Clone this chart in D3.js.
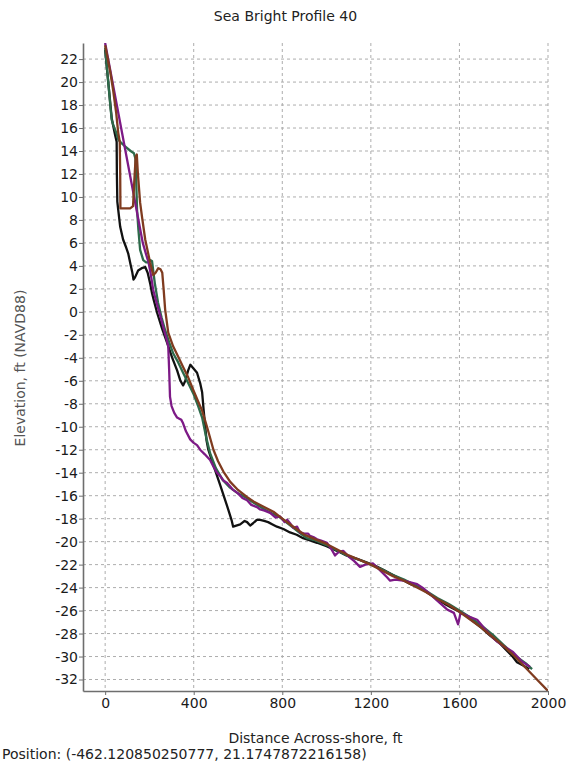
<!DOCTYPE html>
<html>
<head>
<meta charset="utf-8">
<script src="https://cdn.jsdelivr.net/npm/d3@7"></script>
<style>
  body { margin: 0; background: #fff; }
  svg text { font-family: "DejaVu Sans", sans-serif; }
</style>
</head>
<body>
<svg id="chart" width="571" height="774"></svg>
<script>
// profile surveys, [distance ft, elevation ft]
var blackPts = [[0,22.8],[15,19.8],[30,16.8],[45,15.4],[52,14.8],[53,12],[55,9.6],[59,8.9],[68,7.4],[81,6.3],[95,5.6],[104,5.1],[115,4.1],[122,3.5],[128,2.8],[135,3.0],[149,3.6],[165,3.8],[181,3.9],[192,3.4],[203,2.5],[212,1.6],[220,1.0],[235,-0.1],[258,-1.5],[280,-2.7],[303,-4.0],[325,-5.1],[340,-6.0],[352,-6.4],[362,-6.0],[375,-5.1],[385,-4.6],[398,-4.9],[415,-5.3],[429,-6.2],[438,-7.0],[445,-8.6],[451,-9.8],[458,-11.2],[466,-12.0],[490,-13.4],[520,-15.1],[551,-16.9],[572,-18.2],[578,-18.7],[592,-18.6],[610,-18.5],[630,-18.2],[641,-18.3],[655,-18.6],[668,-18.4],[685,-18.1],[700,-18.1],[718,-18.2],[736,-18.3],[756,-18.5],[776,-18.7],[805,-18.9],[835,-19.2],[865,-19.4],[894,-19.7],[925,-19.9],[957,-20.1],[1000,-20.4],[1047,-20.8],[1090,-21.2],[1138,-21.5],[1180,-21.8],[1220,-22.1],[1260,-22.5],[1300,-22.9],[1340,-23.3],[1380,-23.7],[1420,-24.0],[1460,-24.5],[1500,-25.0],[1540,-25.5],[1580,-25.9],[1620,-26.3],[1660,-26.9],[1700,-27.5],[1740,-28.2],[1780,-28.8],[1810,-29.4],[1840,-30.0],[1860,-30.5],[1890,-30.8],[1915,-31.1]];

var greenPts = [[0,23.0],[15,19.8],[25,17.6],[30,16.7],[36,16.3],[50,15.6],[59,15.0],[68,14.8],[90,14.4],[115,14.0],[130,13.8],[137,13.3],[141,11.0],[144,8.9],[150,7.2],[158,5.4],[172,4.5],[185,4.3],[194,4.3],[205,4.5],[212,4.4],[217,3.6],[225,2.4],[239,0.8],[255,-0.5],[271,-1.6],[290,-2.7],[307,-3.6],[330,-4.4],[352,-5.3],[375,-6.2],[398,-7.1],[420,-8.2],[438,-9.2],[455,-10.8],[474,-12.3],[500,-13.6],[530,-14.6],[564,-15.3],[600,-15.8],[640,-16.2],[669,-16.6],[720,-17.2],[790,-17.9],[850,-18.8],[890,-19.4],[912,-19.7],[950,-19.9],[1000,-20.3],[1050,-20.8],[1100,-21.3],[1150,-21.6],[1200,-22.0],[1250,-22.4],[1300,-22.9],[1350,-23.3],[1400,-23.8],[1450,-24.3],[1500,-24.9],[1550,-25.4],[1600,-26.0],[1650,-26.6],[1700,-27.3],[1750,-28.1],[1800,-29.0],[1850,-29.9],[1900,-30.6],[1928,-31.1]];

var purplePts = [[0,23.4],[170,6.0],[185,5.0],[196,4.3],[203,3.6],[210,2.8],[217,1.9],[235,0.6],[250,-0.4],[262,-1.3],[275,-2.2],[285,-3.0],[289,-5.0],[293,-7.4],[300,-8.2],[312,-8.8],[325,-9.2],[335,-9.3],[344,-9.4],[352,-9.7],[365,-10.4],[384,-11.1],[400,-11.4],[415,-11.6],[429,-12.0],[450,-12.4],[474,-12.9],[490,-13.5],[505,-14.0],[520,-14.3],[535,-14.7],[551,-14.9],[565,-15.2],[578,-15.5],[600,-15.8],[620,-16.2],[641,-16.4],[660,-16.8],[686,-17.0],[700,-17.2],[720,-17.3],[745,-17.5],[770,-17.9],[790,-17.8],[810,-18.3],[822,-18.1],[835,-18.4],[850,-18.8],[867,-18.7],[880,-19.2],[900,-19.3],[917,-19.3],[925,-19.5],[940,-19.6],[957,-19.8],[975,-19.9],[1002,-20.1],[1020,-20.6],[1038,-21.2],[1055,-20.9],[1075,-20.8],[1100,-21.3],[1125,-21.7],[1151,-22.2],[1175,-22.0],[1210,-21.9],[1242,-22.5],[1273,-23.1],[1287,-23.4],[1310,-23.3],[1346,-23.4],[1370,-23.5],[1409,-23.7],[1440,-24.1],[1481,-24.8],[1510,-25.3],[1544,-25.9],[1575,-26.2],[1594,-27.2],[1605,-26.2],[1640,-26.5],[1680,-26.8],[1710,-27.5],[1738,-28.1],[1770,-28.7],[1800,-29.1],[1842,-29.6],[1880,-30.4],[1919,-30.9]];

var brownPts = [[0,23.2],[23,20.9],[36,19.3],[50,17.3],[59,15.6],[66,14.8],[68,12.0],[69,9.0],[90,9.0],[113,9.0],[126,9.2],[132,11.5],[138,13.5],[143,13.7],[148,12.0],[158,9.5],[167,8.2],[181,6.3],[203,4.3],[217,3.2],[228,3.4],[240,3.8],[250,3.7],[258,3.4],[264,2.0],[271,0.2],[285,-1.8],[307,-3.0],[330,-3.9],[352,-4.8],[375,-5.7],[398,-6.8],[420,-7.8],[438,-8.6],[460,-10.0],[489,-12.0],[510,-13.0],[534,-13.9],[565,-14.8],[600,-15.5],[640,-16.1],[670,-16.5],[720,-17.0],[760,-17.4],[800,-18.0],[850,-18.7],[900,-19.4],[950,-19.8],[1000,-20.2],[1050,-20.7],[1100,-21.2],[1150,-21.6],[1200,-22.0],[1250,-22.5],[1300,-23.0],[1350,-23.4],[1400,-23.9],[1450,-24.4],[1500,-25.0],[1550,-25.5],[1600,-26.1],[1650,-26.8],[1700,-27.5],[1750,-28.3],[1800,-29.1],[1850,-30.0],[1900,-31.0],[1950,-32.0],[2000,-33.0]];

var seriesList = [
    { pts: blackPts, color: "#111111" },
    { pts: greenPts, color: "#2d6a4a" },
    { pts: purplePts, color: "#7d1a86" },
    { pts: brownPts, color: "#7f3b1f" }
];

var xTicks = [0, 400, 800, 1200, 1600, 2000];
var yTicks = d3.range(-32, 23, 2);

var svg = d3.select("#chart");
var plotL = 83, plotR = 548, plotT = 43, plotB = 691;

var x = d3.scaleLinear().domain([-100, 2000]).range([plotL, plotR]);
var y = d3.scaleLinear().domain([-33, 23.4]).range([plotB, plotT]);

// grid
var grid = svg.append("g")
    .attr("stroke", "#adadad")
    .attr("stroke-width", 1)
    .attr("stroke-dasharray", "3,3");
grid.selectAll(".hg").data(yTicks).enter().append("line")
    .attr("x1", plotL).attr("x2", plotR)
    .attr("y1", function(d) { return y(d); })
    .attr("y2", function(d) { return y(d); });
grid.selectAll(".vg").data(xTicks).enter().append("line")
    .attr("y1", plotT).attr("y2", plotB)
    .attr("x1", function(d) { return x(d); })
    .attr("x2", function(d) { return x(d); });

svg.append("defs").append("clipPath").attr("id", "plot")
    .append("rect").attr("x", plotL).attr("y", plotT)
    .attr("width", plotR - plotL).attr("height", plotB - plotT);

var line = d3.line()
    .x(function(d) { return x(d[0]); })
    .y(function(d) { return y(d[1]); });

svg.append("g").attr("clip-path", "url(#plot)")
    .selectAll("path").data(seriesList).enter().append("path")
    .attr("d", function(d) { return line(d.pts); })
    .attr("fill", "none")
    .attr("stroke", function(d) { return d.color; })
    .attr("stroke-width", 2.3)
    .attr("stroke-linejoin", "round");

// axes
var yAxis = svg.append("g")
    .attr("transform", "translate(" + plotL + ",0)")
    .call(d3.axisLeft(y).tickValues(yTicks).tickFormat(function(d) { return String(d); })
        .tickSize(4).tickPadding(1).tickSizeOuter(0));
var xAxis = svg.append("g")
    .attr("transform", "translate(0," + plotB + ")")
    .call(d3.axisBottom(x).tickValues(xTicks).tickFormat(function(d) { return String(d); })
        .tickSize(4).tickPadding(3).tickSizeOuter(0));

[yAxis, xAxis].forEach(function(a) {
    a.select(".domain").attr("stroke", "#6e6e6e").attr("stroke-width", 1.6);
    a.selectAll(".tick line").attr("stroke", "#6e6e6e");
    a.selectAll(".tick text")
        .attr("fill", "#1a1a1a")
        .style("font-family", "DejaVu Sans")
        .style("font-size", "14px");
});

svg.append("text")
    .attr("x", 285.5).attr("y", 21)
    .attr("text-anchor", "middle")
    .attr("fill", "#222")
    .style("font-size", "14px")
    .text("Sea Bright Profile 40");

svg.append("text")
    .attr("x", (plotL + plotR) / 2).attr("y", 743)
    .attr("text-anchor", "middle")
    .attr("fill", "#222")
    .style("font-size", "14px")
    .text("Distance Across-shore, ft");

svg.append("text")
    .attr("transform", "translate(25,368) rotate(-90)")
    .attr("text-anchor", "middle")
    .attr("fill", "#555")
    .style("font-size", "14px")
    .text("Elevation, ft (NAVD88)");

svg.append("text")
    .attr("x", 2).attr("y", 759)
    .attr("fill", "#222")
    .style("font-size", "14px")
    .text("Position: (-462.120850250777, 21.1747872216158)");
</script>
</body>
</html>
